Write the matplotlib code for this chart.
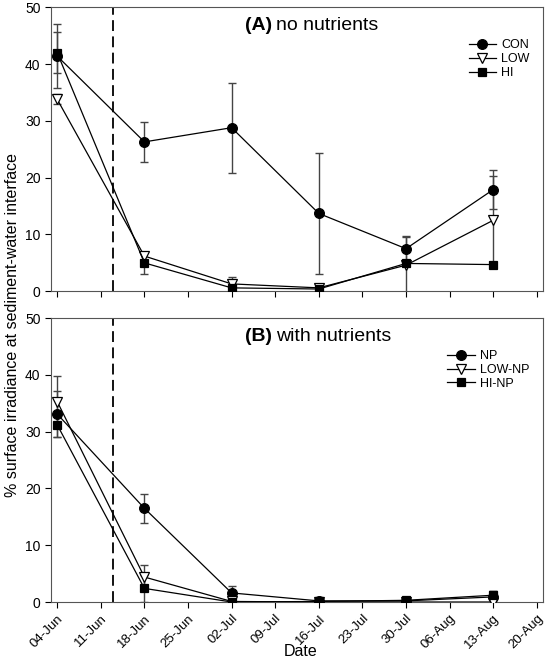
import matplotlib
matplotlib.use("Agg")
import matplotlib.pyplot as plt
import matplotlib.dates as mdates
import numpy as np
from datetime import datetime

plt.rcParams['font.family'] = ['Liberation Sans', 'DejaVu Sans']

dates = ["2008-06-04", "2008-06-18", "2008-07-02", "2008-07-16", "2008-07-30", "2008-08-13"]
tick_dates = ["2008-06-04", "2008-06-11", "2008-06-18", "2008-06-25", "2008-07-02", "2008-07-09",
              "2008-07-16", "2008-07-23", "2008-07-30", "2008-08-06", "2008-08-13", "2008-08-20"]
treatment_date = "2008-06-13"

# Panel A: no nutrients
con = [41.4, 26.3, 28.8, 13.7, 7.5, 17.9]
con_err = [5.6, 3.5, 7.9, 10.6, 2.3, 3.4]
low = [33.8, 6.2, 1.3, 0.6, 4.6, 12.5]
low_err = [0.9, 0.8, 1.3, 0.3, 4.9, 7.8]
hi = [42.0, 5.0, 0.6, 0.4, 4.9, 4.7]
hi_err = [3.6, 1.9, 0.4, 0.2, 0.4, 0.3]

# Panel B: with nutrients
np_ = [33.1, 16.5, 1.6, 0.2, 0.2, 0.9]
np_err = [4.1, 2.6, 1.3, 0.1, 0.1, 1.0]
lownp = [35.3, 4.4, 0.1, 0.0, 0.0, 0.0]
lownp_err = [4.5, 2.1, 0.1, 0.0, 0.0, 0.0]
hinp = [31.2, 2.4, 0.0, 0.1, 0.3, 1.2]
hinp_err = [2.1, 2.4, 0.0, 0.1, 0.1, 0.8]

x = [datetime.strptime(d, "%Y-%m-%d") for d in dates]
xt = [datetime.strptime(d, "%Y-%m-%d") for d in tick_dates]
xd = datetime.strptime(treatment_date, "%Y-%m-%d")

fig = plt.figure(figsize=(5.48, 6.62), dpi=100)
axA = fig.add_axes([0.093, 0.560, 0.898, 0.429])
axB = fig.add_axes([0.093, 0.0906, 0.898, 0.429])

def series(ax, y, e, marker, mfc, ms, label):
    ax.errorbar(x, y, yerr=e, fmt='none', ecolor='#444444', elinewidth=1.0,
                capsize=3, capthick=1.0, zorder=2)
    ax.plot(x, y, color='black', lw=0.9, marker=marker, mfc=mfc, mec='black',
            ms=ms, mew=0.9, label=label, zorder=3)

def style(ax, title_bold, title_rest):
    ax.axvline(xd, color='black', lw=1.3, ls=(0, (6, 3)), zorder=1)
    ax.set_ylim(0, 50)
    ax.set_yticks([0, 10, 20, 30, 40, 50])
    ax.set_xlim(datetime(2008, 6, 3), datetime(2008, 8, 21))
    ax.set_xticks(xt)
    ax.xaxis.set_major_formatter(mdates.DateFormatter('%d-%b'))
    ax.tick_params(axis='y', direction='out', length=4, width=0.8, labelsize=10, colors='black')
    ax.tick_params(axis='x', direction='out', length=4, width=0.8, labelsize=9.5, colors='black')
    for s in ax.spines.values():
        s.set_linewidth(0.8)
        s.set_color('#555555')
    ax.text(0.449, 0.935, title_bold, transform=ax.transAxes, fontsize=14,
            fontweight='bold', ha='right', va='center')
    ax.text(0.458, 0.935, title_rest, transform=ax.transAxes, fontsize=14,
            ha='left', va='center')
    ax.legend(loc='upper right', bbox_to_anchor=(0.99, 0.918), frameon=False,
              fontsize=9, handlelength=2.2, handletextpad=0.4, labelspacing=0.15,
              borderpad=0.2)

series(axA, con, con_err, 'o', 'black', 7, 'CON')
series(axA, low, low_err, 'v', 'white', 7, 'LOW')
series(axA, hi, hi_err, 's', 'black', 6, 'HI')
style(axA, '(A)', 'no nutrients')
axA.set_xticklabels([])

series(axB, np_, np_err, 'o', 'black', 7, 'NP')
series(axB, lownp, lownp_err, 'v', 'white', 7, 'LOW-NP')
series(axB, hinp, hinp_err, 's', 'black', 6, 'HI-NP')
style(axB, '(B)', 'with nutrients')
for lab in axB.get_xticklabels():
    lab.set_rotation(45)
    lab.set_ha('right')
    lab.set_rotation_mode('anchor')

fig.text(301 / 548, 1 - 652 / 662, 'Date', ha='center', va='center', fontsize=11.5)
fig.text(0.022, 0.509, '% surface irradiance at sediment-water interface', rotation=90,
         ha='center', va='center', fontsize=11.5)

fig.savefig('out.png', dpi=100)
